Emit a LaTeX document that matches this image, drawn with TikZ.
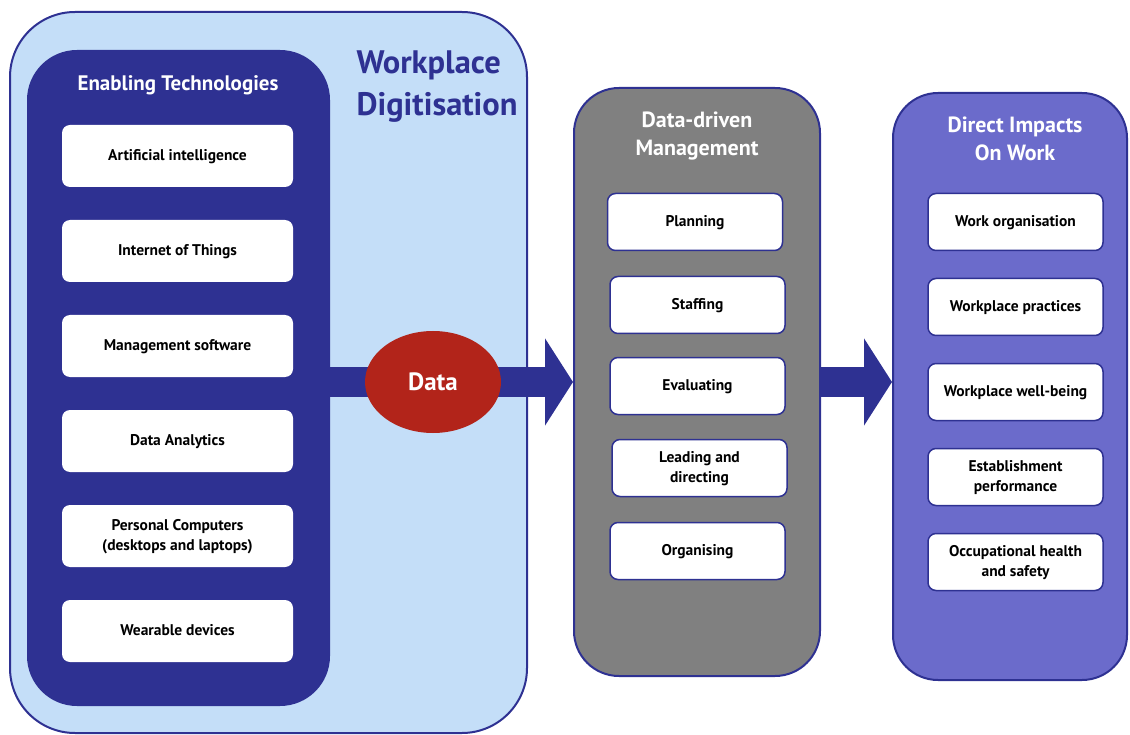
\documentclass[tikz,border=0pt]{standalone}
\usepackage{fontspec}
\setmainfont{PT Sans}
\usetikzlibrary{arrows.meta,shapes.geometric}

\definecolor{navy}{HTML}{2E3192}
\definecolor{paleblue}{HTML}{C4DEF8}
\definecolor{slate}{HTML}{6B6BCB}
\definecolor{datared}{HTML}{B2241A}
\definecolor{midgrey}{HTML}{808080}

\tikzset{
  panel/.style={draw=navy, line width=2pt, rounded corners=#1},
  techbox/.style={fill=white, rounded corners=8pt, minimum width=231pt, minimum height=62pt,
    inner sep=0pt, text depth=1.5pt, align=center, font=\bfseries\fontsize{15.5}{20}\selectfont},
  stagebox/.style={techbox, draw=navy, line width=1.5pt, minimum width=175pt, minimum height=57pt},
  heading/.style={text=white, align=center, font=\bfseries\fontsize{22}{28}\selectfont},
  bigarrow/.style={navy, line width=30pt, -{Triangle[length=28pt, width=86pt]}},
}

\begin{document}
\begin{tikzpicture}[x=1pt, y=-1pt]
  \useasboundingbox (0,0) rectangle (1130,735);

  % panels
  \node[panel=65pt, fill=paleblue, minimum width=517pt, minimum height=721pt] (digit) at (268.5,372.5) {};
  \node[rounded corners=50pt, fill=navy, minimum width=303pt, minimum height=656pt] (tech) at (178.5,378) {};
  \node[panel=45pt, fill=midgrey, minimum width=246pt, minimum height=588pt] (mgmt) at (697,382) {};
  \node[panel=45pt, fill=slate, minimum width=234pt, minimum height=587pt] (impact) at (1010,386.5) {};

  % headings
  \node[anchor=west, align=left, text=navy, font=\bfseries\fontsize{32.5}{42}\selectfont] (digittitle) at (353,87) {Workplace\\Digitisation};
  \node[heading, font=\bfseries\fontsize{21}{28}\selectfont] (techtitle) at (178,85) {Enabling Technologies};
  \node[heading] (mgmttitle) at (697,136) {Data-driven\\Management};
  \node[heading] (impacttitle) at (1015,139) {Direct Impacts\\On Work};

  % enabling technologies
  \node[techbox] (ai) at (177.5,156) {Artificial intelligence};
  \node[techbox] (iot) at (177.5,251) {Internet of Things};
  \node[techbox] (soft) at (177.5,346) {Management software};
  \node[techbox] (analytics) at (177.5,441) {Data Analytics};
  \node[techbox] (pc) at (177.5,536) {Personal Computers\\(desktops and laptops)};
  \node[techbox] (wear) at (177.5,631) {Wearable devices};

  % management functions
  \node[stagebox] (plan) at (695,222) {Planning};
  \node[stagebox] (staff) at (697.5,305) {Staffing};
  \node[stagebox] (eval) at (697.5,386) {Evaluating};
  \node[stagebox] (lead) at (699.5,468) {Leading and\\directing};
  \node[stagebox] (org) at (697.5,551) {Organising};

  % impacts
  \node[stagebox] (workorg) at (1015.5,222) {Work organisation};
  \node[stagebox] (practice) at (1015.5,307) {Workplace practices};
  \node[stagebox] (wellbeing) at (1015.5,392) {Workplace well-being};
  \node[stagebox] (perf) at (1015.5,477) {Establishment\\performance};
  \node[stagebox] (health) at (1015.5,562) {Occupational health\\and safety};

  % flow
  \coordinate (axis) at (433,382);
  \begin{scope}
    \draw[bigarrow] (tech.east |- axis) to (mgmt.west |- axis);
    \draw[bigarrow] (mgmt.east |- axis) to (impact.west |- axis);
  \end{scope}
  \node[ellipse, fill=datared, minimum width=136pt, minimum height=102pt, text=white,
    font=\bfseries\fontsize{25}{28}\selectfont] (data) at (axis) {Data};
\end{tikzpicture}
\end{document}
